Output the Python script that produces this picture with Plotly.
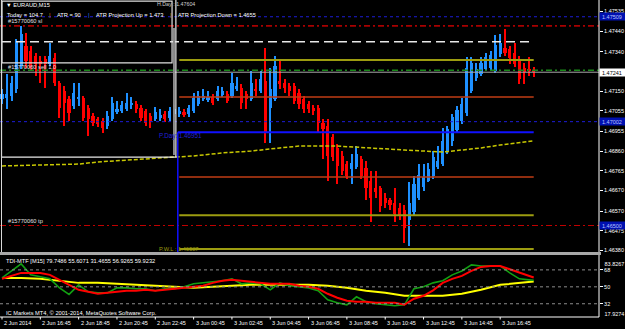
import plotly.graph_objects as go

# ---------------- data ----------------
bar_index = list(range(112))
opens = [1.47112, 1.47116, 1.47126, 1.47160, 1.47270, 1.47367, 1.47343, 1.47318, 1.47294, 1.47304,
         1.47280, 1.47309, 1.47189, 1.47150, 1.47112, 1.47078, 1.47112, 1.47116, 1.47068, 1.47030,
         1.47015, 1.47006, 1.46982, 1.47015, 1.47049, 1.47054, 1.47064, 1.47083, 1.47088, 1.47068,
         1.47054, 1.47030, 1.47015, 1.47020, 1.47040, 1.47020, 1.47040, 1.47040, 1.47049, 1.47040,
         1.47054, 1.47088, 1.47112, 1.47107, 1.47121, 1.47112, 1.47131, 1.47136, 1.47126, 1.47160,
         1.47165, 1.47136, 1.47112, 1.47160, 1.47150, 1.47198, 1.47068, 1.47112, 1.47198, 1.47189,
         1.47174, 1.47174, 1.47140, 1.47112, 1.47088, 1.47068, 1.47068, 1.46996, 1.46982, 1.46929,
         1.46876, 1.46838, 1.46799, 1.46775, 1.46785, 1.46823, 1.46780, 1.46717, 1.46679, 1.46679,
         1.46635, 1.46621, 1.46611, 1.46587, 1.46573, 1.46525, 1.46563, 1.46635, 1.46684, 1.46717,
         1.46741, 1.46785, 1.46799, 1.46862, 1.46910, 1.46962, 1.47006, 1.47044, 1.47150, 1.47213,
         1.47232, 1.47256, 1.47261, 1.47246, 1.47328, 1.47357, 1.47352, 1.47333, 1.47304, 1.47261,
         1.47256, 1.47251]
highs = [1.47160, 1.47232, 1.47222, 1.47400, 1.47463, 1.47429, 1.47367, 1.47333, 1.47318, 1.47318,
         1.47381, 1.47333, 1.47198, 1.47174, 1.47126, 1.47189, 1.47189, 1.47126, 1.47083, 1.47044,
         1.47025, 1.47020, 1.47054, 1.47121, 1.47102, 1.47102, 1.47140, 1.47121, 1.47102, 1.47083,
         1.47064, 1.47044, 1.47073, 1.47064, 1.47054, 1.47073, 1.47083, 1.47073, 1.47064, 1.47083,
         1.47140, 1.47150, 1.47160, 1.47150, 1.47136, 1.47174, 1.47170, 1.47150, 1.47237, 1.47217,
         1.47184, 1.47150, 1.47246, 1.47208, 1.47246, 1.47357, 1.47261, 1.47318, 1.47304, 1.47208,
         1.47189, 1.47189, 1.47160, 1.47126, 1.47102, 1.47083, 1.47083, 1.47015, 1.47015, 1.46943,
         1.46895, 1.46862, 1.46813, 1.46847, 1.46886, 1.46838, 1.46813, 1.46765, 1.46765, 1.46693,
         1.46655, 1.46635, 1.46679, 1.46607, 1.46597, 1.46708, 1.46741, 1.46799, 1.46799, 1.46804,
         1.46862, 1.46886, 1.46972, 1.46982, 1.47040, 1.47078, 1.47116, 1.47314, 1.47314, 1.47285,
         1.47314, 1.47333, 1.47343, 1.47419, 1.47424, 1.47448, 1.47367, 1.47381, 1.47318, 1.47285,
         1.47314, 1.47266]
lows = [1.47088, 1.47064, 1.47102, 1.47140, 1.47256, 1.47261, 1.47246, 1.47222, 1.47189, 1.47165,
        1.47270, 1.47174, 1.47020, 1.46982, 1.47006, 1.47064, 1.47078, 1.47006, 1.46934, 1.46982,
        1.46977, 1.46948, 1.46967, 1.47006, 1.47040, 1.47044, 1.47054, 1.47064, 1.47044, 1.47006,
        1.46982, 1.46972, 1.47006, 1.47006, 1.47001, 1.47006, 1.47025, 1.47025, 1.47025, 1.47025,
        1.47044, 1.47078, 1.47102, 1.47097, 1.47083, 1.47102, 1.47121, 1.47092, 1.47116, 1.47150,
        1.47064, 1.47064, 1.47102, 1.47126, 1.47140, 1.46900, 1.46900, 1.47102, 1.47160, 1.47140,
        1.47126, 1.47088, 1.47064, 1.47044, 1.47044, 1.47035, 1.46948, 1.46823, 1.46717, 1.46813,
        1.46703, 1.46746, 1.46727, 1.46703, 1.46775, 1.46727, 1.46621, 1.46515, 1.46635, 1.46563,
        1.46583, 1.46573, 1.46515, 1.46525, 1.46414, 1.46400, 1.46549, 1.46621, 1.46669, 1.46708,
        1.46727, 1.46775, 1.46789, 1.46847, 1.46886, 1.46948, 1.46991, 1.47030, 1.47140, 1.47198,
        1.47222, 1.47246, 1.47251, 1.47237, 1.47314, 1.47318, 1.47280, 1.47266, 1.47184, 1.47184,
        1.47222, 1.47217]
closes = [1.47136, 1.47136, 1.47189, 1.47391, 1.47424, 1.47294, 1.47261, 1.47280, 1.47280, 1.47280,
          1.47318, 1.47189, 1.47068, 1.47092, 1.47044, 1.47140, 1.47121, 1.47020, 1.47015, 1.46996,
          1.46991, 1.46972, 1.47030, 1.47092, 1.47064, 1.47083, 1.47092, 1.47092, 1.47064, 1.47020,
          1.46996, 1.47006, 1.47049, 1.47035, 1.47015, 1.47054, 1.47064, 1.47054, 1.47035, 1.47068,
          1.47116, 1.47126, 1.47126, 1.47121, 1.47092, 1.47150, 1.47150, 1.47102, 1.47189, 1.47174,
          1.47092, 1.47112, 1.47189, 1.47150, 1.47208, 1.46948, 1.47160, 1.47270, 1.47184, 1.47165,
          1.47150, 1.47102, 1.47088, 1.47064, 1.47064, 1.47054, 1.46996, 1.46967, 1.46838, 1.46833,
          1.46789, 1.46765, 1.46741, 1.46804, 1.46847, 1.46741, 1.46679, 1.46631, 1.46664, 1.46592,
          1.46607, 1.46597, 1.46558, 1.46549, 1.46486, 1.46607, 1.46703, 1.46746, 1.46736, 1.46775,
          1.46833, 1.46813, 1.46910, 1.46967, 1.47025, 1.47059, 1.47088, 1.47261, 1.47285, 1.47256,
          1.47285, 1.47314, 1.47323, 1.47371, 1.47381, 1.47333, 1.47309, 1.47280, 1.47208, 1.47241,
          1.47246, 1.47241]

ma_idx = [0, 8, 16, 20, 24, 30, 36, 40, 46, 52, 58, 62, 70, 78, 84, 88, 92, 96, 100, 104, 108, 111]
ma_vals = [1.46788, 1.46793, 1.46797, 1.46807, 1.46812, 1.46822, 1.46831, 1.46836, 1.46851, 1.46860,
           1.46875, 1.46884, 1.46884, 1.46875, 1.46865, 1.46860, 1.46855, 1.46865, 1.46875, 1.46889,
           1.46899, 1.46909]

tdi_idx = list(range(0, 111, 2)) + [111]
tdi_green = [59.5, 66.9, 74.4, 62.7, 60.6, 58.5, 48.9, 42.0, 52.1, 44.7,
             43.6, 43.6, 48.9, 48.9, 47.9, 47.9, 45.8, 47.9, 47.9, 50.0,
             53.2, 54.2, 55.3, 56.4, 58.5, 53.2, 54.2, 53.2, 46.8, 54.2,
             51.1, 50.0, 48.9, 45.8, 36.2, 33.1, 30.9, 39.4, 34.1, 32.0,
             30.9, 29.9, 30.9, 47.9, 50.0, 54.2, 56.4, 62.7, 66.9, 73.3,
             72.2, 72.2, 72.2, 64.8, 58.5, 57.4, 56.93]
tdi_red = [58.5, 61.6, 64.8, 64.8, 64.8, 62.7, 57.4, 52.1, 46.8, 44.7,
           42.6, 43.6, 44.7, 45.8, 45.8, 46.8, 45.8, 46.8, 47.9, 48.9,
           50.0, 51.1, 54.2, 56.4, 57.4, 56.4, 55.3, 54.2, 53.2, 53.2,
           53.2, 51.1, 50.0, 47.9, 42.6, 38.4, 35.2, 34.1, 34.1, 33.1,
           33.1, 33.1, 30.9, 37.3, 40.5, 46.3, 54.2, 58.5, 61.6, 66.9,
           71.2, 72.2, 72.2, 68.5, 64.8, 61.6, 59.92]
tdi_yel_idx = list(range(0, 109, 4)) + [111]
tdi_yellow = [59.5, 59.5, 58.5, 56.4, 54.2, 54.2, 53.2, 52.1, 51.1, 50.0,
              48.9, 50.0, 51.1, 52.1, 52.1, 52.1, 52.1, 51.1, 48.9, 45.8,
              43.6, 40.5, 40.5, 40.5, 42.6, 46.8, 52.1, 54.2, 55.61]

price_ticks = [1.47535, 1.47440, 1.47340, 1.47150, 1.47055, 1.46955, 1.46860,
               1.46765, 1.46670, 1.46570, 1.46475, 1.46380]
tdi_ticks = [68, 50, 32]
tdi_min, tdi_max = 17.9274, 83.8267

time_tick_idx = [0, 8, 16, 24, 32, 40, 48, 56, 64, 72, 80, 88, 96, 104]
time_tick_text = ["2 Jun 2014", "2 Jun 16:45", "2 Jun 18:45", "2 Jun 20:45", "2 Jun 22:45",
                  "3 Jun 00:45", "3 Jun 02:45", "3 Jun 04:45", "3 Jun 06:45", "3 Jun 08:45",
                  "3 Jun 10:45", "3 Jun 12:45", "3 Jun 14:45", "3 Jun 16:45"]

bid = 1.47241
order_open = 1.47250
order_sl = 1.47465
order_tp = 1.46500
blue_dotted_levels = [1.47509, 1.47002]
white_dash_level = 1.47388
olive_levels = [1.47300, 1.46550, 1.46387]
orange_levels = [1.47121, 1.46735]
pday_level = 1.46951
day_start = 37
box_rect = [0, 35.5, 1.47286, 1.47585]     # x0, x1, y0, y1 of drawn rectangle
frame_rect = [-0.1, 36.3, 1.46831, 1.47600]
gray_marker = [35.9, 1.46841, 1.47455]

# ---------------- layout helpers ----------------
PW, PH = 599, 317
def fx(px):
    return px / PW
def fy(py):
    return (PH - py) / PH

FONT = "Liberation Sans, Arial, sans-serif"
BULL, BEAR = "#1e90ff", "#ff0000"

fig = go.Figure()

bull = [i for i in bar_index if closes[i] >= opens[i]]
bear = [i for i in bar_index if closes[i] < opens[i]]
MIN_BODY = 0.00004
for ids, col in ((bull, BULL), (bear, BEAR)):
    fig.add_trace(go.Bar(x=ids, y=[highs[i] - lows[i] for i in ids], base=[lows[i] for i in ids],
                         width=0.22, marker=dict(color=col, line=dict(width=0)),
                         hoverinfo="skip", showlegend=False))
    fig.add_trace(go.Bar(x=ids, y=[max(abs(closes[i] - opens[i]), MIN_BODY) for i in ids],
                         base=[min(opens[i], closes[i]) for i in ids],
                         width=0.66, marker=dict(color=col, line=dict(width=0)),
                         hoverinfo="skip", showlegend=False))

fig.add_trace(go.Scatter(x=ma_idx, y=ma_vals, mode="lines",
                         line=dict(color="#c8c800", width=1.5, dash="4px,2px"),
                         hoverinfo="skip", showlegend=False))

for xs, ys, col, w in ((tdi_yel_idx, tdi_yellow, "#ffff00", 2),
                       (tdi_idx, tdi_green, "#12a012", 1.6),
                       (tdi_idx, tdi_red, "#ff0000", 2)):
    fig.add_trace(go.Scatter(x=xs, y=ys, mode="lines", xaxis="x2", yaxis="y2",
                             line=dict(color=col, width=w), hoverinfo="skip", showlegend=False))

shapes = []
def hline(y, col, w, dash="solid", x0=0, x1=1, xref="paper", yref="y"):
    shapes.append(dict(type="line", xref=xref, yref=yref, x0=x0, x1=x1, y0=y, y1=y,
                       line=dict(color=col, width=w, dash=dash), layer="above"))

for lv in blue_dotted_levels:
    hline(lv, "#1c1cd8", 1, "dot")
hline(order_sl, "#a80000", 1.6, "6px,3px,2px,3px")
hline(order_tp, "#c00000", 1.2, "6px,3px,2px,3px")
hline(order_open, "#1a8a1a", 1.5, "6px,3px,2px,3px")
hline(bid, "#a8a8a8", 1)
hline(white_dash_level, "#e8e8e8", 1.5, "9px,5px", x0=0, x1=bar_index[-1], xref="x")
for lv in olive_levels:
    hline(lv, "#9c9c10", 2, x0=day_start, x1=bar_index[-1], xref="x")
for lv in orange_levels:
    hline(lv, "#c03c14", 1.5, x0=day_start, x1=bar_index[-1], xref="x")
hline(pday_level, "#1010ff", 2, x0=day_start - 0.3, x1=bar_index[-1], xref="x")
shapes.append(dict(type="line", xref="x", yref="y", x0=day_start - 0.3, x1=day_start - 0.3,
                   y0=pday_level, y1=1.46372, line=dict(color="#1010ff", width=1.5)))
# drawn objects
shapes.append(dict(type="rect", xref="x", yref="y", x0=box_rect[0], x1=box_rect[1],
                   y0=box_rect[2], y1=box_rect[3], line=dict(color="#e0e0e0", width=1.2)))
shapes.append(dict(type="rect", xref="x", yref="y", x0=frame_rect[0], x1=frame_rect[1],
                   y0=frame_rect[2], y1=frame_rect[3], line=dict(color="#e8e8e8", width=1.2)))
shapes.append(dict(type="line", xref="x", yref="y", x0=gray_marker[0], x1=gray_marker[0],
                   y0=gray_marker[1], y1=gray_marker[2], line=dict(color="#8a8a8a", width=2)))
# TDI dotted levels
for lv in tdi_ticks:
    hline(lv, "#8c8c8c", 1, "dot", yref="y2")
# frame
shapes.append(dict(type="line", xref="paper", yref="paper", x0=fx(1.5), x1=fx(1.5), y0=fy(252), y1=1,
                   line=dict(color="#d8d8d8", width=1)))
shapes.append(dict(type="line", xref="paper", yref="paper", x0=1, x1=1, y0=0, y1=1,
                   line=dict(color="#ffffff", width=1)))
shapes.append(dict(type="line", xref="paper", yref="paper", x0=0, x1=1, y0=0, y1=0,
                   line=dict(color="#ffffff", width=1)))
shapes.append(dict(type="rect", xref="paper", yref="paper", x0=0, x1=fx(601), y0=fy(255), y1=fy(252),
                   fillcolor="#a8a8a8", line=dict(width=0)))
for t in time_tick_idx:
    shapes.append(dict(type="line", xref="x", yref="paper", x0=t, x1=t, y0=0, y1=fy(319.5),
                       line=dict(color="#ffffff", width=1)))

ann = []
def txt(x, y, s, col="#ffffff", size=5.7, xanchor="left", xref="paper", yref="paper", **kw):
    ann.append(dict(x=x, y=y, xref=xref, yref=yref, text=s, showarrow=False, xanchor=xanchor,
                    yanchor="middle", font=dict(family=FONT, size=size, color=col), **kw))

txt(fx(4), fy(5), "▼ EURAUD,M15")
txt(fx(5), fy(14.5), "Today = 104.7")
txt(fx(47), fy(14.5), "|", "#e08c00")
txt(fx(55), fy(14.5), "ATR = 90")
txt(fx(86), fy(14.5), "|", "#3a7cff")
txt(fx(94), fy(14.5), "ATR Projection Up = 1.473")
txt(fx(168), fy(14.5), "|", "#e08c00")
txt(fx(176), fy(14.5), "ATR Projection Down = 1.4655")
txt(fx(155), fy(3.5), "H.Day : 1.47604", "#d0d0d0", size=5.3)
txt(fx(6), fy(21), "#15770060 sl", "#e0e0e0")
txt(fx(6), fy(67), "#15770060 sell 1.0", "#e0e0e0")
txt(fx(6), fy(221), "#15770060 tp", "#e0e0e0")
txt(fx(157), fy(136), "P.Day: 1.46951", "#2020d8", size=6.3)
txt(fx(157), fy(249), "P.W.L : 1.46387", "#9c9c10")
txt(fx(4), fy(260.5), "TDI-MTF [M15] 79.7486 55.6071 31.4655 56.9265 59.9232")
txt(fx(4), fy(312.5), "IC Markets MT4, © 2001-2014, MetaQuotes Software Corp.")
for t, s in zip(time_tick_idx, time_tick_text):
    txt(t, fy(323), s, xref="x", size=5.5)

# axis price boxes
def box(y, s, bg, col, yref="y"):
    ann.append(dict(x=1, y=y, xref="paper", yref=yref, text=s, showarrow=False, xanchor="left",
                    yanchor="middle", xshift=0, bgcolor=bg, borderpad=0.5,
                    font=dict(family=FONT, size=5.5, color=col)))
for lv in blue_dotted_levels + [order_tp]:
    box(lv, f" {lv:.5f}  ", "#0010b0", "#b8c4ff")
box(bid, f" {bid:.5f}  ", "#ffffff", "#000000")
txt(1, fy(263.5), f" {tdi_max:.4f}", size=5.5, xshift=2)
txt(1, fy(313.5), f" {tdi_min:.4f}", size=5.5, xshift=2)

fig.update_layout(
    width=625, height=329, margin=dict(l=0, r=26, t=0, b=12),
    paper_bgcolor="#000000", plot_bgcolor="#000000",
    barmode="overlay", bargap=0, showlegend=False,
    shapes=shapes, annotations=ann,
    xaxis=dict(range=[-0.4175, 124.63], domain=[0, 1], anchor="y", showgrid=False, zeroline=False,
               showticklabels=False, showline=False, ticks=""),
    xaxis2=dict(matches="x", domain=[0, 1], anchor="y2", showgrid=False, zeroline=False,
                showticklabels=False, showline=False, ticks=""),
    yaxis=dict(domain=[fy(252), 1], range=[1.46372, 1.47590], side="right", showgrid=False,
               zeroline=False, tickvals=price_ticks, ticktext=[f"{v:.5f}" for v in price_ticks],
               ticks="outside", ticklen=3, tickcolor="#ffffff",
               tickfont=dict(family=FONT, size=5.5, color="#ffffff")),
    yaxis2=dict(domain=[0, fy(255)], range=[tdi_min, tdi_max], side="right", showgrid=False,
                zeroline=False, tickvals=tdi_ticks, ticktext=[str(v) for v in tdi_ticks],
                ticks="outside", ticklen=3, tickcolor="#ffffff",
                tickfont=dict(family=FONT, size=5.5, color="#ffffff")),
)
fig.write_html("out.html")
